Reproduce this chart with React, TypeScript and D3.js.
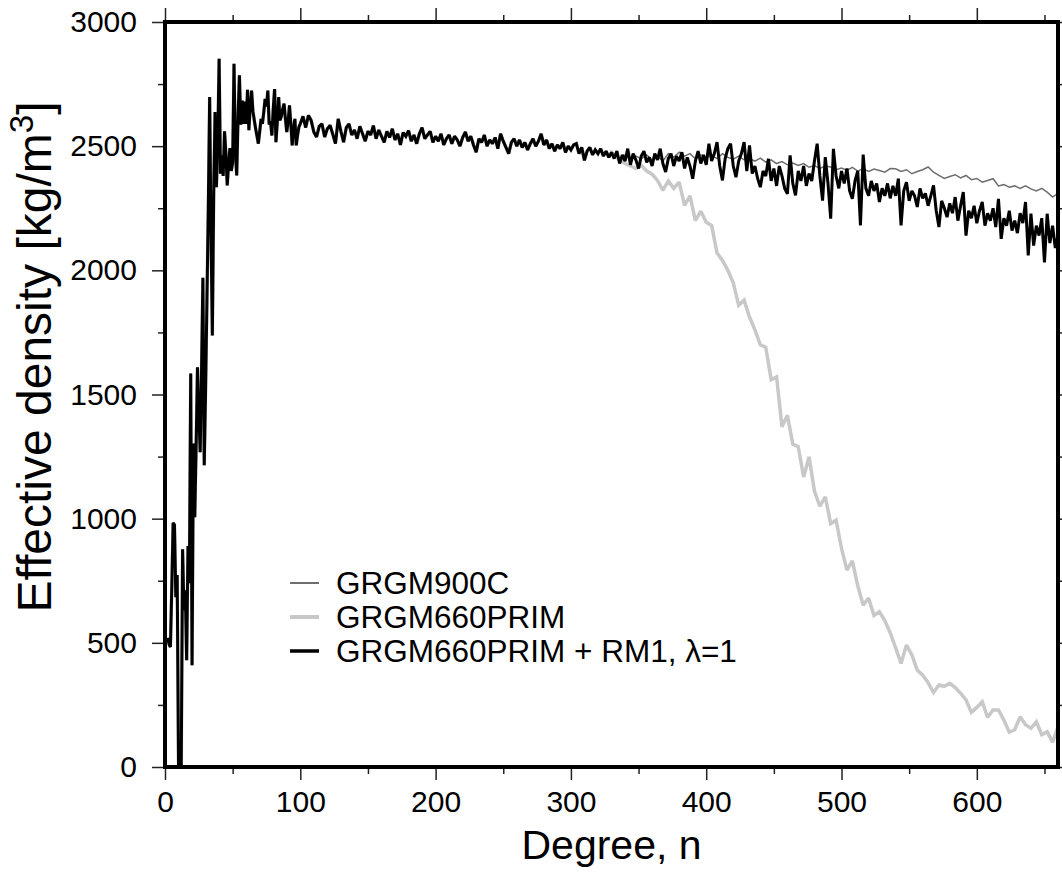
import React, { useEffect, useRef } from "react";
import * as d3 from "d3";

// degree 2..99, one value per degree (all three models agree here)
const lowDegrees = d3.range(2, 100);
const lowDensity = [
  520, 495, 483, 720, 983, 975, 684, 773, 0, 0,
  0, 877, 632, 712, 430, 890, 740, 1585, 410, 1303,
  1006, 1290, 1610, 1420, 1268, 1590, 1970, 1215, 1520, 1880,
  2250, 2698, 2150, 1738, 2310, 2637, 2335, 2520, 2852, 2389,
  2463, 2380, 2560, 2470, 2342, 2430, 2492, 2400, 2436, 2832,
  2480, 2382, 2620, 2785, 2587, 2684, 2590, 2680, 2590, 2727,
  2564, 2660, 2724, 2640, 2604, 2570, 2540, 2510, 2560, 2610,
  2590, 2637, 2690, 2660, 2724, 2587, 2600, 2543, 2650, 2730,
  2516, 2600, 2698, 2604, 2620, 2650, 2671, 2610, 2557, 2600,
  2664, 2590, 2503, 2570, 2610, 2503, 2545, 2577,
];

// degree 100..330, every 2nd degree (still shared)
const midDegrees = d3.range(100, 331, 2);
const midDensity = [
  2590, 2620, 2575, 2624, 2604, 2557, 2537, 2580, 2590, 2537,
  2570, 2584, 2548, 2510, 2610, 2560, 2516, 2575, 2590, 2545,
  2565, 2530, 2580, 2550, 2520, 2560, 2545, 2583, 2530, 2565,
  2540, 2515, 2560, 2535, 2570, 2525, 2550, 2505, 2555, 2540,
  2563, 2520, 2545, 2510, 2550, 2575, 2530, 2545, 2560, 2515,
  2540, 2520, 2550, 2505, 2530, 2545, 2510, 2540, 2525, 2500,
  2535, 2557, 2520, 2540, 2505, 2476, 2530, 2515, 2545, 2500,
  2525, 2510, 2535, 2490, 2550, 2520, 2495, 2470, 2515, 2530,
  2500, 2525, 2495, 2515, 2485, 2510, 2530, 2500, 2520, 2550,
  2505, 2525, 2490, 2510, 2480, 2505, 2490, 2515, 2475, 2500,
  2485, 2505, 2510, 2470, 2495, 2443, 2480, 2495, 2465, 2485,
  2470, 2490, 2460, 2480, 2455, 2475,
];

// GRGM660PRIM + RM1 from degree 332, every 2nd degree
const rm1Degrees = d3.range(332, 661, 2);
const rm1Density = [
  2450, 2480, 2430, 2465, 2440, 2490, 2425, 2470, 2445, 2410,
  2460, 2480, 2435, 2455, 2420, 2470, 2445, 2490, 2430, 2396,
  2450, 2470, 2420, 2460, 2440, 2476, 2410, 2455, 2420, 2369,
  2440, 2480, 2430, 2465, 2425, 2510, 2440, 2470, 2516, 2420,
  2362, 2450, 2490, 2510, 2420, 2375, 2440, 2470, 2516, 2400,
  2503, 2390, 2420, 2370, 2335, 2400, 2380, 2449, 2360, 2410,
  2340, 2420, 2380, 2330, 2308, 2463, 2350, 2302, 2400, 2360,
  2420, 2340, 2390, 2360, 2440, 2510, 2380, 2281, 2456, 2350,
  2208, 2489, 2380, 2330, 2400, 2350, 2410, 2320, 2288, 2360,
  2400, 2181, 2466, 2330, 2300, 2360, 2320, 2350, 2275, 2330,
  2300, 2350, 2290, 2340, 2300, 2369, 2181, 2320, 2355, 2280,
  2320, 2300, 2255, 2330, 2290, 2310, 2260, 2300, 2342, 2240,
  2174, 2280, 2250, 2214, 2270, 2230, 2295, 2200, 2260, 2315,
  2140, 2240, 2210, 2260, 2190, 2240, 2275, 2180, 2230, 2200,
  2250, 2174, 2288, 2127, 2210, 2180, 2240, 2160, 2200, 2150,
  2230, 2190, 2275, 2060, 2228, 2100, 2180, 2140, 2210, 2032,
  2228, 2110, 2180, 2090, 2140,
];

// GRGM900C and GRGM660PRIM from degree 332, every 4th degree
const tailDegrees = d3.range(332, 661, 4);
const grgm900cDensity = [
  2460, 2450, 2465, 2445, 2460, 2450, 2465, 2445, 2460, 2440,
  2470, 2455, 2476, 2460, 2470, 2449, 2465, 2455, 2463, 2450,
  2470, 2455, 2448, 2460, 2445, 2449, 2440, 2452, 2436, 2445,
  2430, 2438, 2425, 2432, 2422, 2430, 2415, 2422, 2410, 2420,
  2416, 2405, 2412, 2402, 2415, 2400, 2409, 2398, 2408, 2402,
  2395, 2410, 2409, 2398, 2405, 2389, 2398, 2405, 2416, 2395,
  2382, 2370, 2378, 2385, 2372, 2382, 2365, 2370, 2355, 2362,
  2369, 2340, 2345, 2335, 2340, 2330, 2340, 2328, 2320, 2330,
  2315, 2295, 2310,
];
const grgm660Density = [
  2465, 2443, 2430, 2420, 2410, 2423, 2400, 2387, 2362, 2322,
  2360, 2330, 2355, 2262, 2300, 2200, 2238, 2194, 2181, 2070,
  2040, 2000, 1950, 1860, 1880, 1812, 1760, 1700, 1690, 1560,
  1571, 1370, 1416, 1300, 1290, 1168, 1249, 1110, 1050, 1088,
  980, 994, 880, 793, 830, 730, 652, 680, 610, 625,
  590, 540, 480, 417, 491, 451, 390, 370, 340, 300,
  330, 325, 337, 320, 297, 270, 220, 240, 263, 200,
  230, 230, 189, 140, 150, 202, 170, 156, 182, 130,
  142, 100, 162,
];

const seriesNames = ["GRGM900C", "GRGM660PRIM", "GRGM660PRIM + RM1, λ=1"];
const xMajor = d3.range(0, 601, 100);
const xMinor = d3.range(50, 661, 100);
const yMajor = d3.range(0, 3001, 500);
const yMinor = d3.range(250, 3000, 500);

const zip = (xs, ys) => xs.map((n, i) => ({ n, rho: ys[i] }));

const App = () => {
  const svgRef = useRef(null);
  const width = 1062;
  const height = 873;
  const plot = { left: 165, right: 1058, top: 22, bottom: 767 };

  useEffect(() => {
    const svg = d3.select(svgRef.current);
    svg.selectAll("*").remove();

    const x = d3.scaleLinear().domain([0, 660]).range([plot.left, plot.right]);
    const y = d3.scaleLinear().domain([0, 3000]).range([plot.bottom, plot.top]);

    const shared = [...zip(lowDegrees, lowDensity), ...zip(midDegrees, midDensity)];
    const series = [
      { name: seriesNames[0], color: "#6e6e6e", width: 1.5, points: [...shared, ...zip(tailDegrees, grgm900cDensity)] },
      { name: seriesNames[1], color: "#c8c8c8", width: 3.5, points: [...shared, ...zip(tailDegrees, grgm660Density)] },
      { name: seriesNames[2], color: "#000000", width: 3, points: [...shared, ...zip(rm1Degrees, rm1Density)] },
    ];

    svg.append("rect").attr("width", width).attr("height", height).attr("fill", "#fff");

    svg.append("clipPath").attr("id", "plot-clip")
      .append("rect")
      .attr("x", plot.left).attr("y", plot.top)
      .attr("width", plot.right - plot.left).attr("height", plot.bottom - plot.top);

    const line = d3.line().x((d) => x(d.n)).y((d) => y(d.rho));

    svg.append("g").attr("clip-path", "url(#plot-clip)")
      .selectAll("path")
      .data(series)
      .enter()
      .append("path")
      .attr("d", (d) => line(d.points))
      .attr("fill", "none")
      .attr("stroke", (d) => d.color)
      .attr("stroke-width", (d) => d.width)
      .attr("stroke-linejoin", "miter")
      .attr("stroke-miterlimit", 2);

    // ticks
    const tickStyle = (g) => {
      g.select(".domain").remove();
      g.selectAll("line").attr("stroke", "#222").attr("stroke-width", 1.5);
      g.selectAll("text")
        .attr("font-family", "'Liberation Sans', Arial, sans-serif")
        .attr("font-size", 30)
        .attr("fill", "#000");
    };

    svg.append("g").attr("transform", `translate(0,${plot.bottom})`)
      .call(d3.axisBottom(x).tickValues(xMajor).tickSize(13).tickPadding(11).tickFormat(d3.format("d")))
      .call(tickStyle);
    svg.append("g").attr("transform", `translate(0,${plot.bottom})`)
      .call(d3.axisBottom(x).tickValues(xMinor).tickSize(7).tickFormat(() => ""))
      .call(tickStyle);
    svg.append("g").attr("transform", `translate(0,${plot.top})`)
      .call(d3.axisTop(x).tickValues(xMajor).tickSize(14).tickFormat(() => ""))
      .call(tickStyle);
    svg.append("g").attr("transform", `translate(0,${plot.top})`)
      .call(d3.axisTop(x).tickValues(xMinor).tickSize(7).tickFormat(() => ""))
      .call(tickStyle);

    svg.append("g").attr("transform", `translate(${plot.left},0)`)
      .call(d3.axisLeft(y).tickValues(yMajor).tickSize(13).tickPadding(15).tickFormat(d3.format("d")))
      .call(tickStyle);
    svg.append("g").attr("transform", `translate(${plot.left},0)`)
      .call(d3.axisLeft(y).tickValues(yMinor).tickSize(7).tickFormat(() => ""))
      .call(tickStyle);
    svg.append("g").attr("transform", `translate(${plot.right},0)`)
      .call(d3.axisRight(y).tickValues(yMajor).tickSize(13).tickFormat(() => ""))
      .call(tickStyle);
    svg.append("g").attr("transform", `translate(${plot.right},0)`)
      .call(d3.axisRight(y).tickValues(yMinor).tickSize(7).tickFormat(() => ""))
      .call(tickStyle);

    // frame
    svg.append("rect")
      .attr("x", plot.left).attr("y", plot.top)
      .attr("width", plot.right - plot.left).attr("height", plot.bottom - plot.top)
      .attr("fill", "none").attr("stroke", "#000").attr("stroke-width", 4);

    // axis titles
    svg.append("text")
      .attr("x", (plot.left + plot.right) / 2)
      .attr("y", 859)
      .attr("text-anchor", "middle")
      .attr("font-family", "'Liberation Sans', Arial, sans-serif")
      .attr("font-size", 41)
      .text("Degree, n");

    const yTitle = svg.append("text")
      .attr("transform", "translate(51,357) rotate(-90)")
      .attr("text-anchor", "middle")
      .attr("font-family", "'Liberation Sans', Arial, sans-serif")
      .attr("font-size", 48);
    yTitle.append("tspan").text("Effective density [kg/m");
    yTitle.append("tspan").attr("font-size", 33).attr("dy", -18).text("3");
    yTitle.append("tspan").attr("dy", 18).text("]");

    // legend
    const legend = svg.append("g").attr("transform", "translate(290,583)");
    const rows = legend.selectAll("g").data(series).enter().append("g")
      .attr("transform", (_, i) => `translate(0,${i * 34})`);
    rows.append("line")
      .attr("x1", 0).attr("x2", 29)
      .attr("stroke", (d) => d.color)
      .attr("stroke-width", (d) => d.width + 0.5);
    rows.append("text")
      .attr("x", 46)
      .attr("dy", "0.36em")
      .attr("font-family", "'Liberation Sans', Arial, sans-serif")
      .attr("font-size", 31.5)
      .text((d) => d.name);
  }, []);

  return (
    <svg
      ref={svgRef}
      width={width}
      height={height}
      style={{ position: "absolute", left: 0, top: 0 }}
    />
  );
};

export default App;
